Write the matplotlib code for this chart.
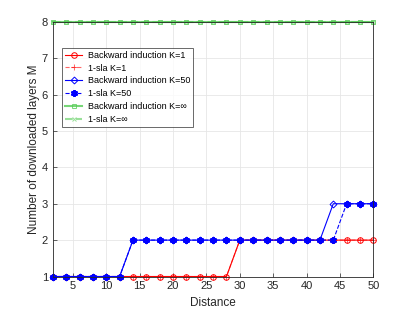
import matplotlib
matplotlib.use('Agg')
import matplotlib.pyplot as plt
import numpy as np

plt.rcParams['font.family'] = ['Liberation Sans', 'DejaVu Sans']

distance = np.arange(2, 51, 2)

bi_k1 = [1] * 14 + [2] * 11
sla_k1 = [1] * 14 + [2] * 11
bi_k50 = [1] * 6 + [2] * 15 + [3] * 4
sla_k50 = [1] * 6 + [2] * 16 + [3] * 3
bi_kinf = [8] * 25
sla_kinf = [8] * 25

labels = ['Backward induction K=1', '1-sla K=1',
          'Backward induction K=50', '1-sla K=50',
          'Backward induction K=\u221e', '1-sla K=\u221e']

fig = plt.figure(figsize=(4.13, 3.10), dpi=100)
ax = fig.add_axes([0.128, 0.108, 0.776, 0.822])

red = '#ff0000'
blue = '#0000ff'
green = '#55cc55'
lw = 0.8
ms = 4

ax.plot(distance, bi_k1, color=red, marker='o', mfc='none', lw=lw, ms=ms, mew=0.7, clip_on=False, label=labels[0])
ax.plot(distance, sla_k1, color=red, marker='+', ls='--', lw=lw, ms=ms + 1, mew=0.7, alpha=0.6, clip_on=False, label=labels[1])
ax.plot(distance, bi_k50, color=blue, marker='D', mfc='none', lw=lw, ms=ms - 0.5, mew=0.7, clip_on=False, label=labels[2])
ax.plot(distance, sla_k50, color=blue, marker=(6, 2, 0), ls='--', lw=lw, ms=ms + 1, mew=1.4, clip_on=False, label=labels[3])
ax.plot(distance, bi_kinf, color=green, marker='s', mfc='none', lw=1.5, ms=ms - 0.5, mew=0.7, alpha=0.8, clip_on=False, label=labels[4])
ax.plot(distance, sla_kinf, color=green, marker='x', ls='--', lw=1.5, ms=ms - 0.5, mew=0.7, alpha=0.6, clip_on=False, label=labels[5])

ax.set_xlim(2, 50)
ax.set_ylim(1, 8)
ax.set_xticks(np.arange(5, 51, 5))
ax.set_yticks(np.arange(1, 9))
ax.grid(True, color='#e6e6e6', lw=0.6)
ax.set_axisbelow(True)
ax.tick_params(direction='in', labelsize=8, colors='#262626', length=3, width=0.5)
for s in ax.spines.values():
    s.set_color('#262626')
    s.set_linewidth(0.6)
ax.set_xlabel('Distance', fontsize=8.5, color='#262626', labelpad=4)
ax.set_ylabel('Number of downloaded layers M', fontsize=8.5, color='#262626', labelpad=1)

leg = ax.legend(loc='upper left', bbox_to_anchor=(0.028, 0.898), fontsize=6.5, frameon=True,
                fancybox=False, edgecolor='#262626', handlelength=1.9, borderpad=0.35,
                labelspacing=0.42, handletextpad=0.6, borderaxespad=0)
leg.get_frame().set_linewidth(0.6)

fig.savefig('out.png', dpi=100)
